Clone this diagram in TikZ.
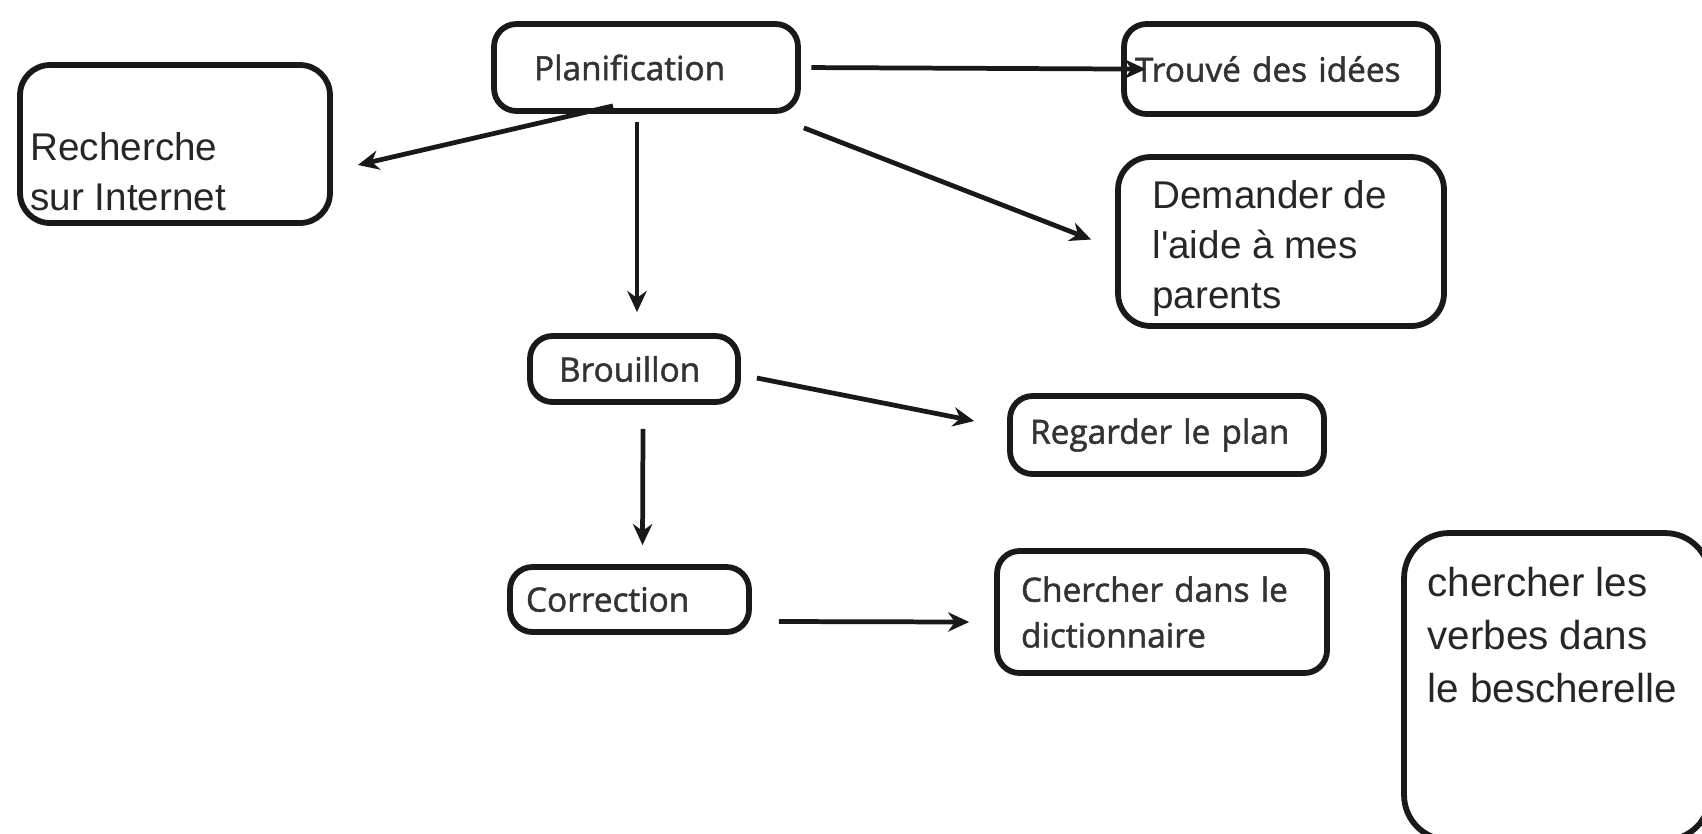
\documentclass[tikz,border=0pt]{standalone}
\usepackage{fontspec}
\newfontfamily\comic{Open Sans}[FakeBold=1.5]
\newfontfamily\arial{Liberation Sans}
\usetikzlibrary{calc,arrows.meta}

\begin{document}
\begin{tikzpicture}[x=0.02cm,y=-0.02cm,
	bloc/.style={draw=black!90,line width=3.3pt,rounded corners=0.45cm},
	bd/.style={font=\comic\fontsize{19}{26}\selectfont,text=black!80,align=left},
	ar/.style={font=\arial\fontsize{22}{28.5}\selectfont,text=black!85,anchor=north west,align=left,inner sep=0pt},
	fleche/.style={->,line width=2.7pt,draw=black!90},
	>={Stealth[length=12pt,width=11pt]}]
	\useasboundingbox (0,0) rectangle (1702,833);
	% boites
	\node[bloc,bd,minimum width=6.08cm,minimum height=1.74cm,inner xsep=0.8cm,text width=4.48cm] (plan) at (646,67.5) {Planification};
	\node[bloc,minimum width=6.2cm,minimum height=3.16cm,rounded corners=0.6cm] (recherche) at (175,144) {};
	\node[ar] (recherchetxt) at ($(recherche.north west)+(13,70)$) {Recherche\\sur Internet};
	\node[bloc,bd,minimum width=6.28cm,minimum height=1.8cm,inner xsep=0.22cm,text width=5.84cm] (trouve) at (1281,69) {Trouvé des idées};
	\node[bloc,minimum width=6.52cm,minimum height=3.38cm,rounded corners=0.65cm] (demander) at (1281,241.5) {};
	\node[ar] (demandertxt) at ($(demander.north west)+(37,26)$) {Demander de\\l'aide à mes\\parents};
	\node[bloc,bd,minimum width=4.16cm,minimum height=1.32cm,inner xsep=0.58cm,text width=3cm] (brouillon) at (634,369) {Brouillon};
	\node[bloc,bd,minimum width=6.28cm,minimum height=1.56cm,inner xsep=0.4cm,text width=5.48cm] (regarder) at (1167,435) {Regarder le plan};
	\node[bloc,bd,minimum width=4.78cm,minimum height=1.3cm,inner xsep=0.32cm,text width=4.14cm] (correction) at (629.5,599.5) {Correction};
	\node[bloc,bd,minimum width=6.6cm,minimum height=2.44cm,inner xsep=0.48cm,text width=5.64cm] (chercher) at (1162,612) {Chercher dans le\\dictionnaire};
	\node[bloc,minimum width=6.12cm,minimum height=6.14cm,rounded corners=0.9cm] (verbes) at (1557,686.5) {};
	\node[ar,font=\arial\fontsize{23}{30}\selectfont] (verbestxt) at ($(verbes.north west)+(26,37)$) {chercher les\\verbes dans\\le bescherelle};
	% fleches
	\draw[fleche,shorten <=6pt,shorten >=-14pt] (plan.east) -- (trouve.west);
	\draw[fleche] ($(plan.south)+(-33,-8)$) -- ($(recherche.east)+(25,21)$);
	\draw[fleche] ($(plan.south)+(-9,8)$) -- ($(brouillon.north)+(3,-21)$);
	\draw[fleche] ($(plan.south east)+(3,14)$) -- ($(demander.west)+(-24,-2)$);
	\draw[fleche] ($(brouillon.east)+(16,9)$) -- ($(regarder.west)+(-33,-14)$);
	\draw[fleche] ($(brouillon.south)+(9,24)$) -- ($(correction.north)+(13,-19)$);
	\draw[fleche] ($(correction.east)+(27,22)$) -- ($(chercher.west)+(-25,10)$);
\end{tikzpicture}
\end{document}
